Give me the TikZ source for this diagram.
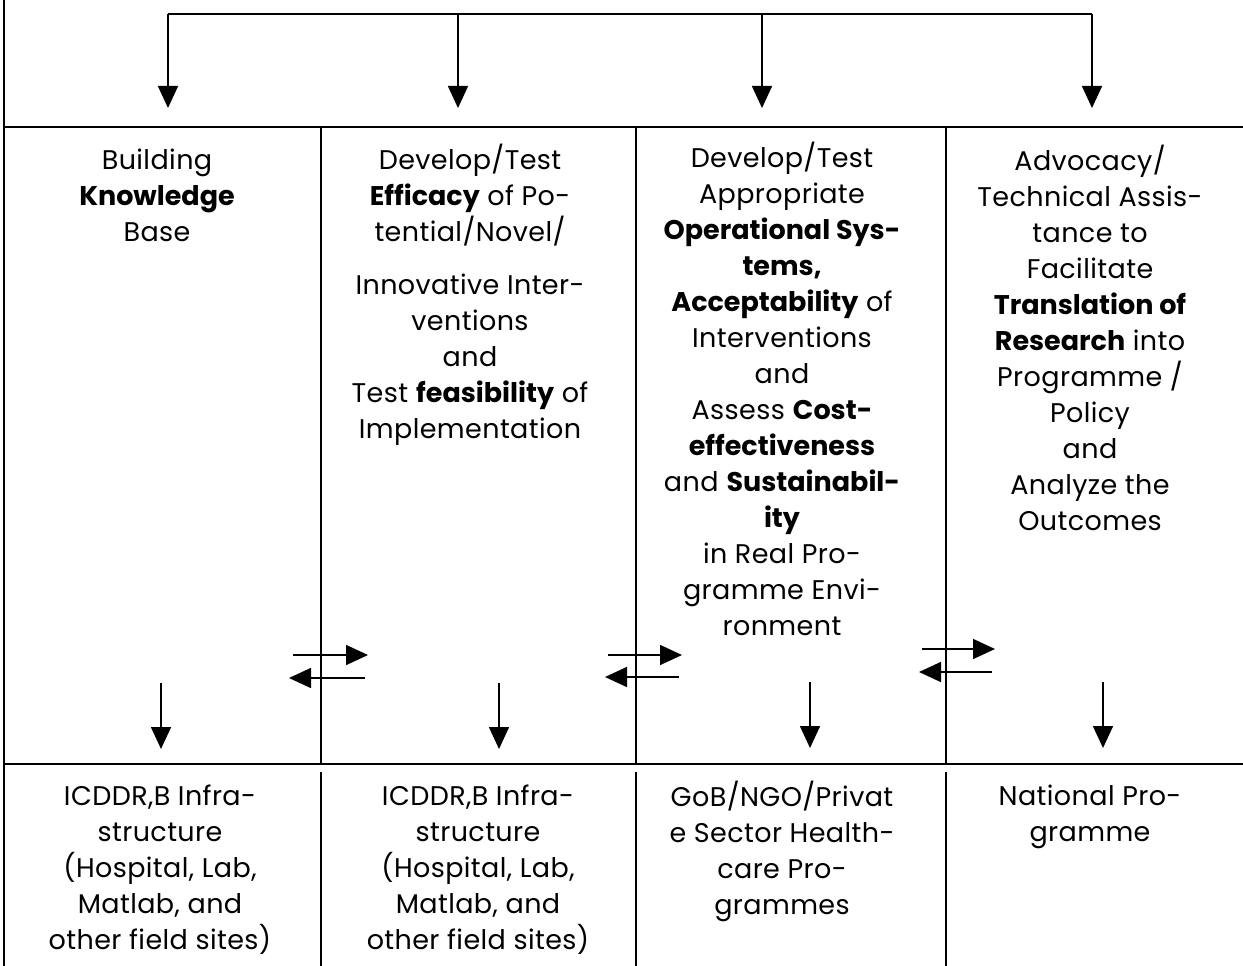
\documentclass[tikz,border=0pt]{standalone}
\usepackage{fontspec}
\setmainfont{Poppins}[LetterSpace=1.5,BoldFeatures={LetterSpace=0}]
\usetikzlibrary{arrows.meta}

\tikzset{
  cell/.style={align=center,anchor=north,inner sep=0pt,
    font=\fontsize{27}{36}\selectfont},
  arr/.style={-{Triangle[length=22pt,width=20pt]}},
}

\begin{document}
\begin{tikzpicture}[x=1pt,y=-1pt,line width=1.6pt]
  \useasboundingbox (0,0) rectangle (1243,966);

  % table lines
  \begin{scope}[line width=1.4pt]
    \draw (4,0) -- (4,966);
    \draw (4,127) -- (1243,127);
    \draw (4,764) -- (1243,764);
    \draw (321,127) -- (321,764);
    \draw (321,772) -- (321,966);
    \draw (636,127) -- (636,764);
    \draw (636,772) -- (636,966);
    \draw (946,127) -- (946,764);
    \draw (946,772) -- (946,966);
  \end{scope}

  % top bus
  \coordinate (bus1) at (168,14);
  \coordinate (bus2) at (458,14);
  \coordinate (bus3) at (762,14);
  \coordinate (bus4) at (1092,14);
  \coordinate (in1) at (168,108);
  \coordinate (in2) at (458,108);
  \coordinate (in3) at (762,108);
  \coordinate (in4) at (1092,108);

  \draw (bus1) -- (bus4);
  \draw[arr] (bus1) -- (in1);
  \draw[arr] (bus2) -- (in2);
  \draw[arr] (bus3) -- (in3);
  \draw[arr] (bus4) -- (in4);

  % upper row
  \node[cell] (know) at (157,148) {Building\\\textbf{Knowledge}\\Base};
  \node[cell] (effic) at (470,143) {Develop/Test\\\textbf{Efficacy} of Po-\\tential/Novel/\\[17pt]
    Innovative Inter-\\ventions\\and\\Test \textbf{feasibility} of\\Implementation};
  \node[cell] (oper) at (782,141) {Develop/Test\\Appropriate\\\textbf{Operational Sys-}\\\textbf{tems,}\\
    \textbf{Acceptability} of\\Interventions\\and\\Assess \textbf{Cost-}\\\textbf{effectiveness}\\
    and \textbf{Sustainabil-}\\\textbf{ity}\\in Real Pro-\\gramme Envi-\\ronment};
  \node[cell] (advoc) at (1090,144) {Advocacy/\\Technical Assis-\\tance to\\Facilitate\\
    \textbf{Translation of}\\\textbf{Research} into\\Programme /\\Policy\\and\\Analyze the\\Outcomes};

  % lower row
  \node[cell] (infraA) at (160,784) {ICDDR,B Infra-\\structure\\(Hospital, Lab,\\Matlab, and\\other field sites)};
  \node[cell] (infraB) at (478,784) {ICDDR,B Infra-\\structure\\(Hospital, Lab,\\Matlab, and\\other field sites)};
  \node[cell] (gob) at (782,780) {GoB/NGO/Privat\\e Sector Health-\\care Pro-\\grammes};
  \node[cell] (natprog) at (1090,784) {National Pro-\\gramme};

  % down arrows
  \coordinate (d1) at (161,683);
  \coordinate (e1) at (161,749);
  \coordinate (d2) at (499,683);
  \coordinate (e2) at (499,749);
  \coordinate (d3) at (810,682);
  \coordinate (e3) at (810,748);
  \coordinate (d4) at (1103,682);
  \coordinate (e4) at (1103,748);
  \draw[arr] (d1) -- (e1);
  \draw[arr] (d2) -- (e2);
  \draw[arr] (d3) -- (e3);
  \draw[arr] (d4) -- (e4);

  % exchange arrows
  \coordinate (ra1) at (293,655);
  \coordinate (rb1) at (368,655);
  \coordinate (la1) at (365,678);
  \coordinate (lb1) at (289,678);
  \coordinate (ra2) at (608,655);
  \coordinate (rb2) at (682,655);
  \coordinate (la2) at (679,677);
  \coordinate (lb2) at (605,677);
  \coordinate (ra3) at (922,649);
  \coordinate (rb3) at (995,649);
  \coordinate (la3) at (992,672);
  \coordinate (lb3) at (919,672);
  \draw[arr] (ra1) -- (rb1);
  \draw[arr] (la1) -- (lb1);
  \draw[arr] (ra2) -- (rb2);
  \draw[arr] (la2) -- (lb2);
  \draw[arr] (ra3) -- (rb3);
  \draw[arr] (la3) -- (lb3);
\end{tikzpicture}
\end{document}
